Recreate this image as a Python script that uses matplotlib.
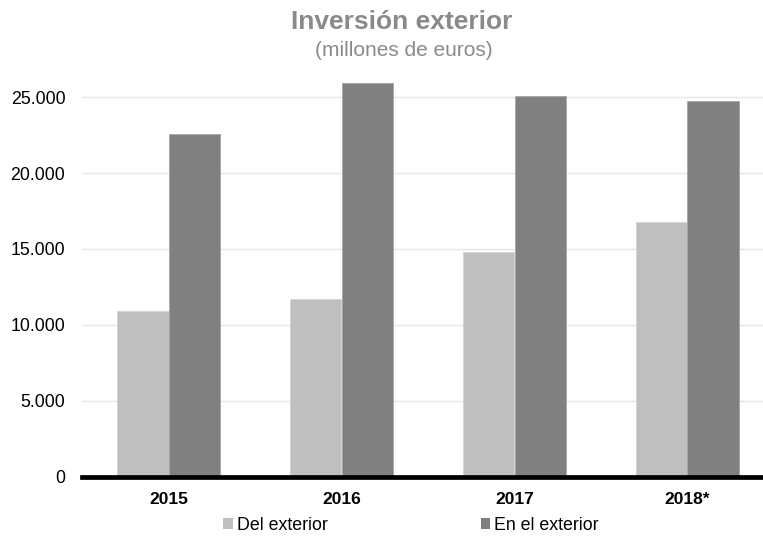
import numpy as np
import matplotlib.pyplot as plt
from matplotlib.patches import Patch
from matplotlib.ticker import FuncFormatter

plt.rcParams['font.family'] = ['Liberation Sans', 'DejaVu Sans']

years = ['2015', '2016', '2017', '2018*']
del_exterior = [10900, 11700, 14780, 16800]
en_exterior = [22600, 25960, 25080, 24770]
yticks = [0, 5000, 10000, 15000, 20000, 25000]

light = '#bfbfbf'
dark = '#808080'

fig = plt.figure(figsize=(7.63, 5.37), dpi=100)
ax = fig.add_axes([82 / 763, 60.5 / 537, 1 - 82 / 763, 0.7627])

x = np.arange(len(years))
w = 0.3
ax.bar(x - w / 2, del_exterior, width=w, color=light, edgecolor='#d4d4d4', linewidth=0.6, zorder=2)
ax.bar(x + w / 2, en_exterior, width=w, color=dark, edgecolor='#a6a6a6', linewidth=0.6, zorder=2)

ax.set_xlim(-0.5, -0.5 + 681 / 173)
ax.set_ylim(0, 27000)
ax.set_yticks(yticks)
ax.yaxis.set_major_formatter(FuncFormatter(lambda v, p: '{:,.0f}'.format(v).replace(',', '.')))
ax.grid(axis='y', color='#e6e6e6', linewidth=1, zorder=0)
ax.set_xticks(x)
ax.set_xticklabels(years, fontweight='bold', fontsize=12.5)
ax.tick_params(axis='y', length=0, pad=12, labelsize=12.8)
ax.tick_params(axis='x', length=0, pad=11)

for s in ['top', 'right', 'left']:
  ax.spines[s].set_visible(False)
ax.spines['bottom'].set_linewidth(3.4)
ax.spines['bottom'].set_color('black')
ax.spines['bottom'].set_zorder(3)

# Title and subtitle.
fig.text(402 / 763, 1 - 22 / 537, 'Inversión exterior', ha='center', va='center',
         fontsize=19, fontweight='bold', color='#8a8a8a')
fig.text(404 / 763, 1 - 51 / 537, '(millones de euros)', ha='center', va='center',
         fontsize=15, color='#8a8a8a')

# Legend.
handles = [Patch(facecolor=light, edgecolor='none', label='Del exterior'),
           Patch(facecolor=dark, edgecolor='none', label='En el exterior')]
fig.legend(handles=handles, loc='center', bbox_to_anchor=(411 / 763, 1 - 525 / 537), ncol=2,
           frameon=False, fontsize=12.8, handlelength=0.55, handleheight=0.55,
           handletextpad=0.2, columnspacing=8.6, borderaxespad=0)

fig.savefig('out.png', dpi=100)
